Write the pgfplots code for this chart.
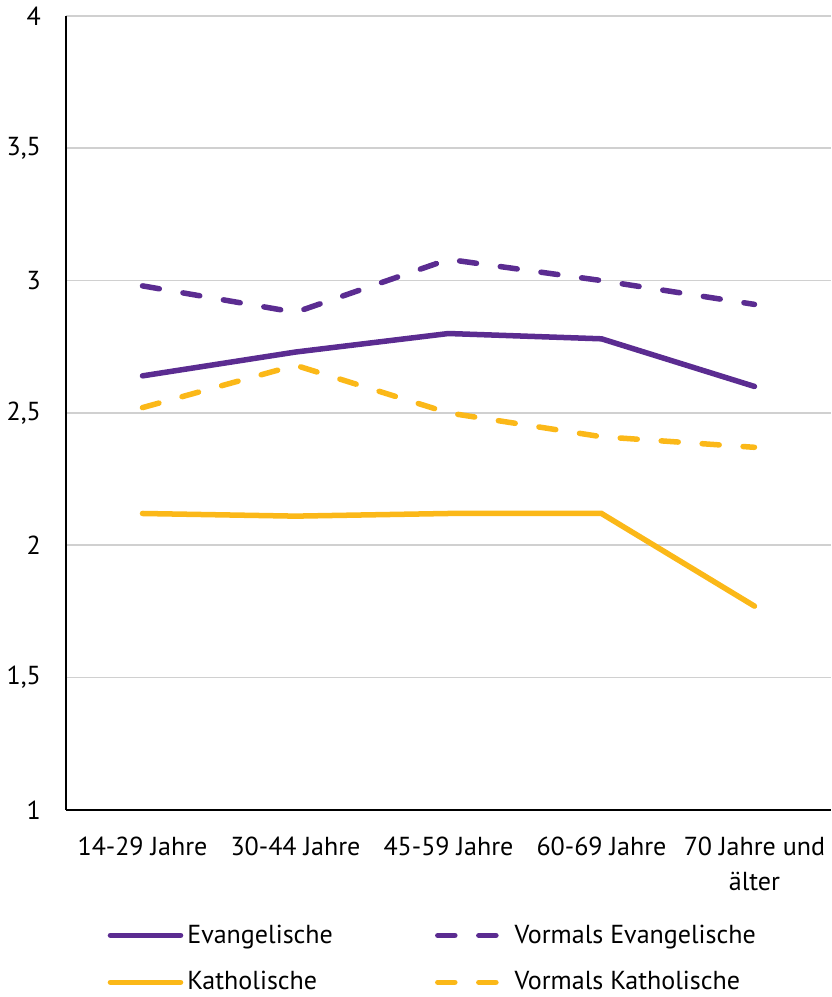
\documentclass[border=0pt]{standalone}
\usepackage{fontspec}
\setmainfont{PT Sans}
\usepackage{pgfplots}
\pgfplotsset{compat=1.18}
\definecolor{evpurple}{HTML}{5B2C91}
\definecolor{katyellow}{HTML}{FBB818}
\definecolor{gridgray}{HTML}{D0D0D0}

\begin{document}
\begin{tikzpicture}
\begin{axis}[
  scale only axis,
  width=382pt, height=396.5pt,
  xmin=-0.5, xmax=4.5, ymin=1, ymax=4,
  axis lines*=left,
  axis line style={black, line width=1pt},
  ymajorgrids,
  grid style={gridgray, line width=0.75pt},
  major tick length=0pt,
  ytick={1,1.5,2,2.5,3,3.5,4},
  xtick={0,1,2,3,4},
  xticklabels={14-29 Jahre, 30-44 Jahre, 45-59 Jahre, 60-69 Jahre, {70 Jahre und\\älter}},
  xticklabel style={align=center, font=\fontsize{13}{17.5}\selectfont, yshift=-10pt},
  yticklabel style={font=\fontsize{13}{15}\selectfont, xshift=-9pt},
  /pgf/number format/.cd, use comma, assume math mode=true,
  /pgfplots/.cd,
  legend style={at={(axis description cs:0.054,-0.139)}, anchor=north west,
    draw=none, fill=none, inner sep=0pt, font=\fontsize{13}{15}\selectfont,
    legend columns=2, row sep=8.7pt,
    /tikz/every even column/.append style={column sep=49pt}},
  legend cell align=left,
  legend image code/.code={\draw[#1, line cap=round] (0pt,0pt) -- (35pt,0pt);},
  every axis plot/.append style={line width=2.75pt, line cap=round},
  vdash/.style={dash pattern=on 8.5pt off 12pt},
]
% Evangelische
\addplot[evpurple] coordinates {(0,2.64) (1,2.73) (2,2.80) (3,2.78) (4,2.60)};
\addlegendentry{Evangelische}
% Vormals Evangelische
\addplot[evpurple, vdash] coordinates {(0,2.98) (1,2.88) (2,3.08) (3,3.00) (4,2.91)};
\addlegendentry{Vormals Evangelische}
% Katholische
\addplot[katyellow] coordinates {(0,2.12) (1,2.11) (2,2.12) (3,2.12) (4,1.77)};
\addlegendentry{Katholische}
% Vormals Katholische
\addplot[katyellow, vdash] coordinates {(0,2.52) (1,2.68) (2,2.50) (3,2.41) (4,2.37)};
\addlegendentry{Vormals Katholische}
\end{axis}
\end{tikzpicture}
\end{document}
